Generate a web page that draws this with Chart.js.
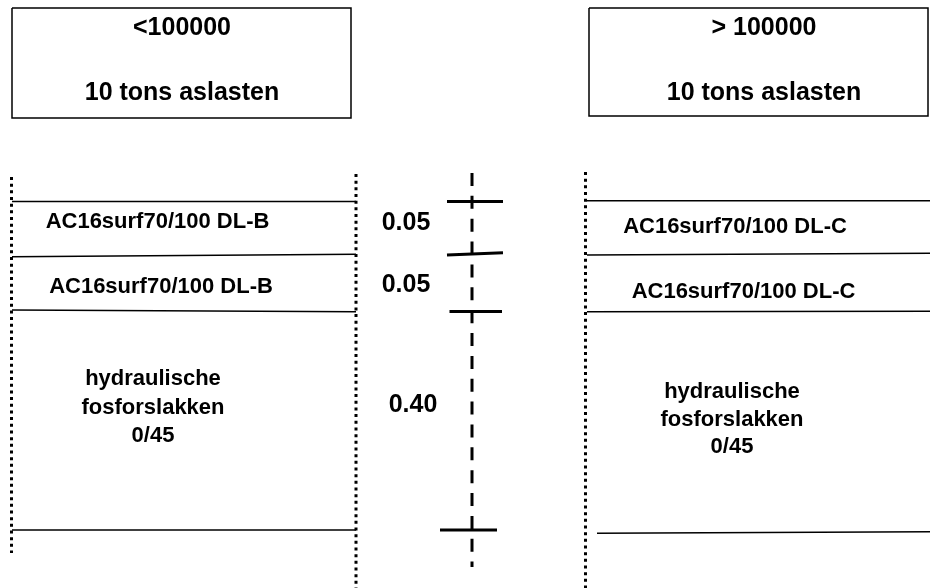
<!DOCTYPE html>
<html>
<head>
<meta charset="utf-8">
<script src="https://cdn.jsdelivr.net/npm/chart.js@4/dist/chart.umd.min.js"></script>
<style>
  html, body { margin: 0; padding: 0; background: #fff; }
  #wrap { width: 930px; height: 588px; }
</style>
</head>
<body>
<div id="wrap"><canvas id="chart"></canvas></div>
<script>
// column headings: traffic class + axle load
const headerLeft = ['<100000', '10 tons aslasten'];
const headerRight = ['> 100000', '10 tons aslasten'];

// pavement layers, top to bottom
const layersLeft = ['AC16surf70/100 DL-B', 'AC16surf70/100 DL-B', 'hydraulische\nfosforslakken\n0/45'];
const layersRight = ['AC16surf70/100 DL-C', 'AC16surf70/100 DL-C', 'hydraulische\nfosforslakken\n0/45'];

// layer thickness (m)
const thicknesses = [0.05, 0.05, 0.40];
const thicknessLabels = thicknesses.map(t => t.toFixed(2));

// ---- layout, in drawing units (axes run 0..930 and 0..588) ----
const FONT = '"Liberation Sans", Arial, sans-serif';

// layer boundaries: [yAtLeftEnd, yAtRightEnd] for each boundary, top to bottom
const leftCol = { x0: 12, x1: 356, bounds: [[201.5, 201.5], [256.7, 254.3], [310, 311.7], [530, 530]] };
const rightCol = { x0: 587, x1: 932, bounds: [[200.7, 200.7], [255, 253.3], [311.7, 311.3], [533.3, 531.7]], lastX0: 597 };
const axisCol = { x: 472, y0: 173, y1: 567,
  ticks: [[447, 503, 201.5, 201.5], [447, 503, 255, 252.7], [449.5, 502, 311.5, 311.5], [440, 497, 530, 530]] };

// label anchors (centre x, baseline y)
const headerPos = { left: [182, [35, 100]], right: [764, [35, 100]] };
const leftLabelPos = [[157.5, 228], [161, 293], [153, 385]];
const rightLabelPos = [[735, 233], [743.5, 298], [732, 398]];
const thicknessPos = [[406, 230], [406, 292], [413, 412]];

function seg(x0, y0, x1, y1, width, dash) {
  return {
    data: [{ x: x0, y: y0 }, { x: x1, y: y1 }],
    showLine: true,
    borderColor: '#000',
    borderWidth: width,
    borderDash: dash || [],
    pointRadius: 0,
    fill: false,
    tension: 0
  };
}

function rect(x0, y0, x1, y1) {
  return {
    data: [{ x: x0, y: y0 }, { x: x1, y: y0 }, { x: x1, y: y1 }, { x: x0, y: y1 }, { x: x0, y: y0 }],
    showLine: true,
    borderColor: '#000',
    borderWidth: 1.5,
    borderJoinStyle: 'miter',
    pointRadius: 0,
    fill: false,
    tension: 0
  };
}

const datasets = [];

// header boxes
datasets.push(rect(12, 8, 351, 118));
datasets.push(rect(589, 8, 928, 116));

// dotted column edges
const DOT = [3, 3.67];
datasets.push(seg(11.5, 177, 11.5, 553, 3, DOT));
datasets.push(seg(356, 174, 356, 590, 3, DOT));
datasets.push(seg(585.5, 172, 585.5, 590, 3, DOT));

// layer boundaries
leftCol.bounds.forEach(b => datasets.push(seg(leftCol.x0, b[0], leftCol.x1, b[1], 1.6)));
rightCol.bounds.forEach((b, i) => {
  const x0 = i === rightCol.bounds.length - 1 ? rightCol.lastX0 : rightCol.x0;
  datasets.push(seg(x0, b[0], rightCol.x1, b[1], 1.6));
});

// thickness axis with ticks
datasets.push(seg(axisCol.x, axisCol.y0, axisCol.x, axisCol.y1, 3, [13, 9.86]));
axisCol.ticks.forEach(t => datasets.push(seg(t[0], t[2], t[1], t[3], 3)));

// texts drawn through the scales
const textPlugin = {
  id: 'diagramText',
  afterDatasetsDraw(chart) {
    const { ctx, scales } = chart;
    const px = v => scales.x.getPixelForValue(v);
    const py = v => scales.y.getPixelForValue(v);
    ctx.save();
    ctx.fillStyle = '#000';
    ctx.textAlign = 'center';
    ctx.textBaseline = 'alphabetic';

    ctx.font = 'bold 25px ' + FONT;
    headerLeft.forEach((t, i) => ctx.fillText(t, px(headerPos.left[0]), py(headerPos.left[1][i])));
    headerRight.forEach((t, i) => ctx.fillText(t, px(headerPos.right[0]), py(headerPos.right[1][i])));

    thicknessLabels.forEach((t, i) => ctx.fillText(t, px(thicknessPos[i][0]), py(thicknessPos[i][1])));

    ctx.font = 'bold 22px ' + FONT;
    const drawLayers = (names, pos, lineH) => {
      names.forEach((name, i) => {
        name.split('\n').forEach((line, j) => {
          ctx.fillText(line, px(pos[i][0]), py(pos[i][1] + j * lineH));
        });
      });
    };
    drawLayers(layersLeft, leftLabelPos, 28.5);
    drawLayers(layersRight, rightLabelPos, 27.5);
    ctx.restore();
  }
};

new Chart(document.getElementById('chart'), {
  type: 'scatter',
  data: { datasets: datasets },
  options: {
    responsive: true,
    maintainAspectRatio: false,
    animation: false,
    events: [],
    layout: { padding: 0 },
    scales: {
      x: { type: 'linear', min: 0, max: 930, display: false },
      y: { type: 'linear', min: 0, max: 588, reverse: true, display: false }
    },
    plugins: {
      legend: { display: false },
      tooltip: { enabled: false }
    }
  },
  plugins: [textPlugin]
});
</script>
</body>
</html>
